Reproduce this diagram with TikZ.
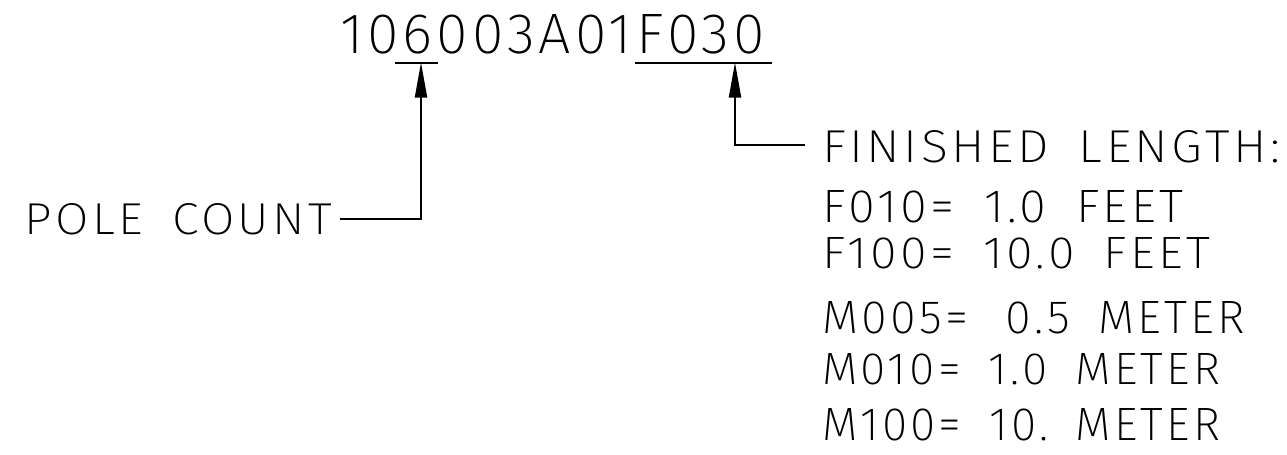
\documentclass[tikz,border=0pt]{standalone}
\usepackage{fontspec}
\usepackage{graphicx}
\usetikzlibrary{arrows.meta}
\newfontfamily\cad{Fira Sans ExtraLight}[LetterSpace=7]
\newcommand\cadsp{\hspace{0.6em}}
\newcommand\fitbox[3]{\resizebox{#1}{#2}{\cad #3}}
\begin{document}
\begin{tikzpicture}[x=0.5pt,y=-0.5pt,
  lbl/.style={anchor=base west,inner sep=0pt,outer sep=0pt},
  wire/.style={line width=1pt,line cap=butt,line join=miter},
  arr/.style={wire,-{Triangle[length=17.5pt,width=6pt]}}]
\useasboundingbox (0,0) rectangle (1287,455);
% texts
\node[lbl] (code) at (340,53) {\fitbox{212.5pt}{19.5pt}{106003A01F030}};
\node[lbl] (pole) at (25,234) {\fitbox{153.5pt}{15.5pt}{POLE\cadsp COUNT}};
\node[lbl] (fin)  at (822,162) {\fitbox{229pt}{16pt}{FINISHED\cadsp LENGTH:}};
\node[lbl] (f010) at (822,222) {\fitbox{180.5pt}{16pt}{F010=\cadsp 1.0\cadsp FEET}};
\node[lbl] (f100) at (822,268) {\fitbox{194pt}{15.5pt}{F100=\cadsp 10.0\cadsp FEET}};
\node[lbl] (m005) at (822,333) {\fitbox{211.5pt}{16pt}{M005=\cadsp\hspace{0.2em}0.5\cadsp METER}};
\node[lbl] (m010) at (822,384) {\fitbox{199pt}{15.5pt}{M010=\cadsp 1.0\cadsp METER}};
\node[lbl] (m100) at (822,440) {\fitbox{199pt}{16pt}{M100=\cadsp 10.\cadsp METER}};
% underlines
\coordinate (u6a) at (395,62.5);
\coordinate (u6b) at (438,62.5);
\coordinate (ufa) at (635,62.5);
\coordinate (ufb) at (772,62.5);
\draw[wire] (u6a) -- (u6b);
\draw[wire] (ufa) -- (ufb);
% connectors
\coordinate (t6) at (421,62.5);
\coordinate (tf) at (735,62.5);
\coordinate (ps) at (340,219);
\coordinate (fs) at (805,145);
\draw[arr] (ps) -| (t6);
\draw[arr] (fs) -| (tf);
\end{tikzpicture}
\end{document}
